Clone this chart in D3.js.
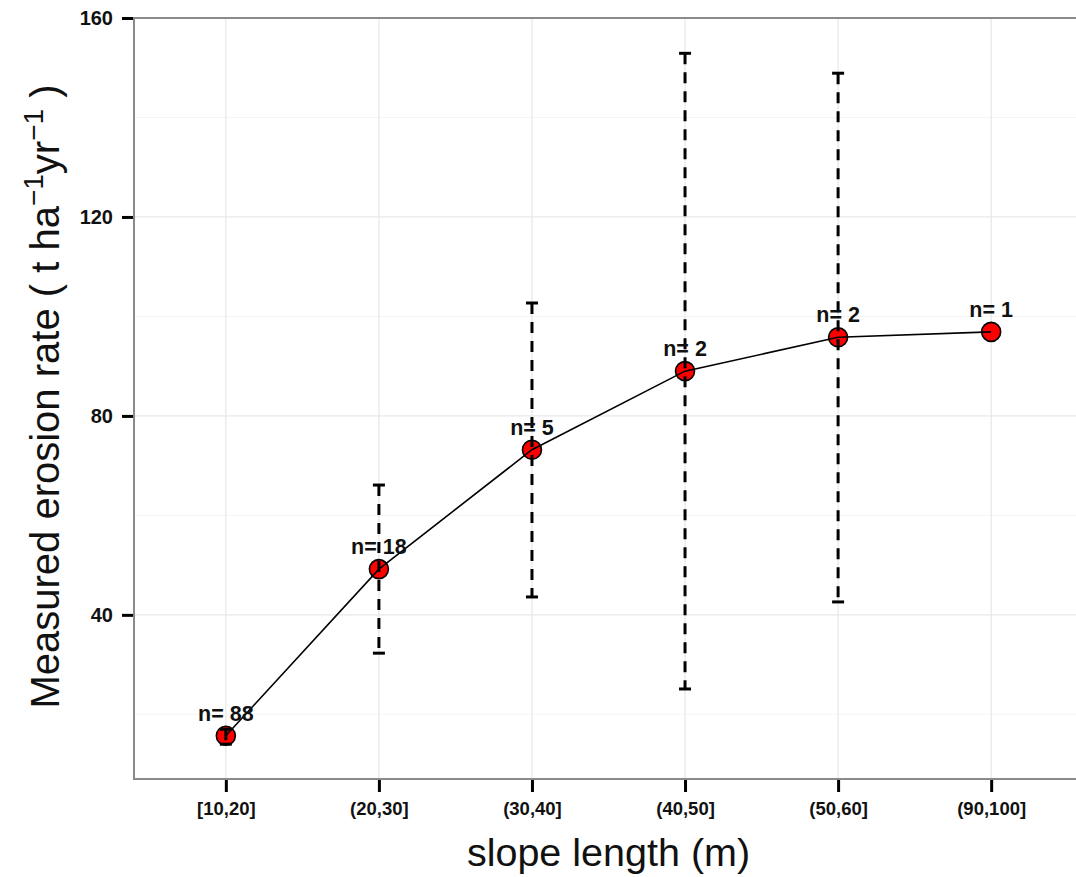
<!DOCTYPE html>
<html>
<head>
<meta charset="utf-8">
<script src="https://cdn.jsdelivr.net/npm/d3@7"></script>
<style>
  body { margin: 0; background: #fff; }
  text { font-family: "Liberation Sans", Arial, sans-serif; }
</style>
</head>
<body>
<svg id="chart" width="1076" height="877"></svg>
<script>
// Data
var categories = ['[10,20]', '(20,30]', '(30,40]', '(40,50]', '(50,60]', '(90,100]'];
var meanRate  = [15.7, 49.2, 73.2, 89.0, 95.8, 96.9];
var lowerRate = [14.0, 32.3, 43.6, 25.1, 42.6, null];
var upperRate = [17.0, 66.1, 102.7, 152.9, 148.9, null];
var sampleN   = [88, 18, 5, 2, 2, 1];
var majorTicks = [40, 80, 120, 160];
var minorTicks = [20, 60, 100, 140];

var rows = categories.map(function(c, i) {
  return {cat: c, mean: meanRate[i], lo: lowerRate[i], hi: upperRate[i], n: sampleN[i]};
});

// panel box (right side runs past the edge of the picture)
var panel = {left: 134, top: 18, right: 1083, bottom: 779};

var svg = d3.select('#chart');

var x = d3.scalePoint()
  .domain(categories)
  .range([panel.left, panel.right])
  .padding(0.6);

var y = d3.scaleLinear()
  .domain([7, 160])
  .range([panel.bottom, panel.top]);

// grid lines
var grid = svg.append('g');
grid.selectAll('.minor')
  .data(minorTicks).enter()
  .append('line')
  .attr('x1', panel.left).attr('x2', panel.right)
  .attr('y1', function(d) { return y(d); })
  .attr('y2', function(d) { return y(d); })
  .style('stroke', '#f4f4f4')
  .style('stroke-width', 1);
grid.selectAll('.major')
  .data(majorTicks).enter()
  .append('line')
  .attr('x1', panel.left).attr('x2', panel.right)
  .attr('y1', function(d) { return y(d); })
  .attr('y2', function(d) { return y(d); })
  .style('stroke', '#e8e8e8')
  .style('stroke-width', 1.3);
grid.selectAll('.vert')
  .data(categories).enter()
  .append('line')
  .attr('x1', function(d) { return x(d); })
  .attr('x2', function(d) { return x(d); })
  .attr('y1', panel.top).attr('y2', panel.bottom)
  .style('stroke', '#e8e8e8')
  .style('stroke-width', 1.3);

// panel border
svg.append('rect')
  .attr('x', panel.left).attr('y', panel.top)
  .attr('width', panel.right - panel.left)
  .attr('height', panel.bottom - panel.top)
  .style('fill', 'none')
  .style('stroke', '#8a8a8a')
  .style('stroke-width', 2);

// axes
var yAxis = svg.append('g')
  .attr('transform', 'translate(' + (panel.left - 1) + ',0)')
  .call(d3.axisLeft(y).tickValues(majorTicks).tickSize(11).tickPadding(9));
var xAxis = svg.append('g')
  .attr('transform', 'translate(0,' + (panel.bottom + 1) + ')')
  .call(d3.axisBottom(x).tickSize(12).tickPadding(10));

[yAxis, xAxis].forEach(function(ax) {
  ax.select('.domain').remove();
  ax.selectAll('.tick line').style('stroke', '#000').style('stroke-width', 3);
  ax.selectAll('.tick text')
    .style('font-family', '"Liberation Sans", Arial, sans-serif')
    .style('font-weight', 'bold')
    .style('fill', '#111');
});
yAxis.selectAll('.tick text').style('font-size', '20px');
xAxis.selectAll('.tick text').style('font-size', '18.5px');

// points
svg.selectAll('.pt')
  .data(rows).enter()
  .append('circle')
  .attr('cx', function(d) { return x(d.cat); })
  .attr('cy', function(d) { return y(d.mean); })
  .attr('r', 9.5)
  .style('fill', '#ff0000')
  .style('stroke', '#000')
  .style('stroke-width', 1.6);

// connecting line
svg.append('path')
  .datum(rows)
  .attr('d', d3.line()
    .x(function(d) { return x(d.cat); })
    .y(function(d) { return y(d.mean); }))
  .style('fill', 'none')
  .style('stroke', '#000')
  .style('stroke-width', 1.6);

// error bars
var bars = svg.selectAll('.err')
  .data(rows.filter(function(d) { return d.lo != null; })).enter()
  .append('g');
bars.append('line')
  .attr('x1', function(d) { return x(d.cat); })
  .attr('x2', function(d) { return x(d.cat); })
  .attr('y1', function(d) { return y(d.hi); })
  .attr('y2', function(d) { return y(d.lo); })
  .style('stroke', '#000')
  .style('stroke-width', 3)
  .style('stroke-dasharray', '11,8');
['hi', 'lo'].forEach(function(k) {
  bars.append('line')
    .attr('x1', function(d) { return x(d.cat) - 6; })
    .attr('x2', function(d) { return x(d.cat) + 6; })
    .attr('y1', function(d) { return y(d[k]); })
    .attr('y2', function(d) { return y(d[k]); })
    .style('stroke', '#000')
    .style('stroke-width', 3);
});

// n labels
svg.selectAll('.nlab')
  .data(rows).enter()
  .append('text')
  .attr('x', function(d) { return x(d.cat); })
  .attr('y', function(d) { return y(d.mean) - 15; })
  .attr('text-anchor', 'middle')
  .style('font-size', '21.5px')
  .style('font-weight', 'bold')
  .style('fill', '#111')
  .text(function(d) { return 'n= ' + d.n; });

// axis titles
svg.append('text')
  .attr('x', (panel.left + panel.right) / 2)
  .attr('y', 866)
  .attr('text-anchor', 'middle')
  .style('font-size', '39.5px')
  .style('fill', '#111')
  .text('slope length (m)');

var yt = svg.append('text')
  .attr('transform', 'translate(59,' + ((panel.top + panel.bottom) / 2 - 2) + ') rotate(-90)')
  .attr('text-anchor', 'middle')
  .style('font-size', '40px')
  .style('fill', '#111');
yt.append('tspan').text('Measured erosion rate ( t ha');
yt.append('tspan').attr('dy', -16).style('font-size', '28px').text('\u22121');
yt.append('tspan').attr('dy', 16).text('yr');
yt.append('tspan').attr('dy', -16).style('font-size', '28px').text('\u22121');
yt.append('tspan').attr('dy', 16).text(' )');
</script>
</body>
</html>
